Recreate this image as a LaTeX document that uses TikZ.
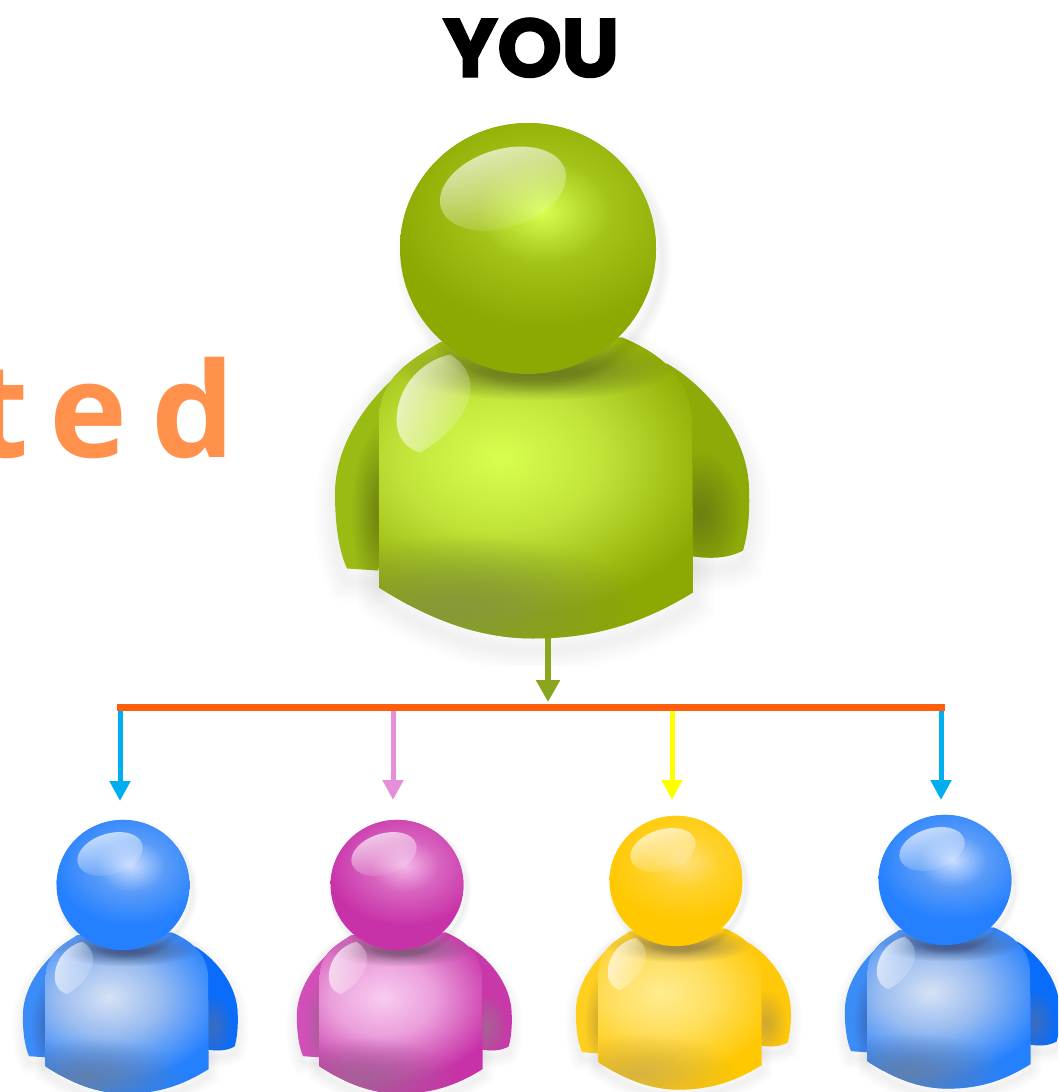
\documentclass[tikz,border=0pt]{standalone}
\usepackage{fontspec}
\usetikzlibrary{arrows.meta,fadings}
\newfontfamily\youfont[LetterSpace=-1.5,BoldFeatures={FakeBold=1.6}]{Poppins}
\newfontfamily\tedfont{Open Sans}
\definecolor{gHi}{HTML}{D8FF50}\definecolor{gMid}{HTML}{C2E43A}\definecolor{gEdge}{HTML}{8BA900}
\definecolor{gArmL}{HTML}{9ABB14}\definecolor{gArmR}{HTML}{8CAA08}\definecolor{gShade}{HTML}{6C8010}\definecolor{gBot}{HTML}{85993A}\definecolor{gNeck}{HTML}{64741E}\definecolor{gHead}{HTML}{D8FF50}
\definecolor{bHi}{HTML}{D6E2F4}\definecolor{bMid}{HTML}{9ABCF0}\definecolor{bEdge}{HTML}{2480FF}
\definecolor{bArmL}{HTML}{3C8CF8}\definecolor{bArmR}{HTML}{0A6CFA}\definecolor{bShade}{HTML}{3A6CC0}\definecolor{bBot}{HTML}{6080B0}\definecolor{bNeck}{HTML}{405888}\definecolor{bHead}{HTML}{C8DCFF}
\definecolor{mHi}{HTML}{F9CCF0}\definecolor{mMid}{HTML}{EBA0DC}\definecolor{mEdge}{HTML}{C832A8}
\definecolor{mArmL}{HTML}{D050B8}\definecolor{mArmR}{HTML}{C838A8}\definecolor{mShade}{HTML}{A86098}\definecolor{mBot}{HTML}{A8609A}\definecolor{mNeck}{HTML}{805878}\definecolor{mHead}{HTML}{F4B8E8}
\definecolor{yHi}{HTML}{FFEC90}\definecolor{yMid}{HTML}{FFDF60}\definecolor{yEdge}{HTML}{FFC800}
\definecolor{yArmL}{HTML}{FFCF20}\definecolor{yArmR}{HTML}{FFC80A}\definecolor{yShade}{HTML}{D0A830}\definecolor{yBot}{HTML}{D8B440}\definecolor{yNeck}{HTML}{A08848}\definecolor{yHead}{HTML}{FFE080}
\newcommand{\setpal}[1]{\colorlet{pHi}{#1Hi}\colorlet{pMid}{#1Mid}\colorlet{pEdge}{#1Edge}\colorlet{pArmL}{#1ArmL}\colorlet{pArmR}{#1ArmR}\colorlet{pShade}{#1Shade}\colorlet{pBot}{#1Bot}\colorlet{pNeck}{#1Neck}\colorlet{pHead}{#1Head}\colorlet{pHMid}{#1Mid!45!#1Edge}}
\colorlet{pHi}{gHi}\colorlet{pMid}{gMid}\colorlet{pEdge}{gEdge}\colorlet{pHead}{gHead}\colorlet{pHMid}{gMid!45!gEdge}
\pgfdeclareradialshading[pHi,pMid,pEdge]{bodyglow}{\pgfpoint{0bp}{0bp}}{color(0bp)=(pHi);color(11bp)=(pMid);color(25bp)=(pEdge);color(50bp)=(pEdge)}
\pgfdeclareradialshading[pHead,pHMid,pEdge]{headglow}{\pgfpoint{0bp}{0bp}}{color(0bp)=(pHead);color(11bp)=(pHMid);color(25bp)=(pEdge);color(50bp)=(pEdge)}
\pgfdeclareradialshading{softblobshade}{\pgfpoint{0bp}{0bp}}{color(0bp)=(white);color(8bp)=(white!75!black);color(25bp)=(black);color(50bp)=(black)}
\pgfdeclarefading{softblob}{\pgfuseshading{softblobshade}}
\tikzfading[name=glossfade,top color=transparent!30,bottom color=transparent!100]
\tikzfading[name=glossfadeb,left color=transparent!25,middle color=transparent!85,right color=transparent!100]
\newcommand{\torsopath}{(-149,339) -- (-149,170) .. controls (-149,130) and (-118,112) .. (-88,94) -- (94,89) .. controls (125,102) and (164,125) .. (164,175) -- (165,344) .. controls (110,378) and (60,390) .. (5,390) .. controls (-50,390) and (-100,370) .. (-149,339) -- cycle}
\newcommand{\armLpath}{(-125,122) .. controls (-160,150) and (-193,195) .. (-193,245) .. controls (-193,280) and (-188,305) .. (-181,320) -- (-150,322) -- (-100,150) -- cycle}
\newcommand{\armRpath}{(139,115) .. controls (182,140) and (220,190) .. (221,240) .. controls (222,265) and (220,285) .. (215,302) .. controls (200,310) and (180,312) .. (150,305) -- (100,150) -- cycle}
\tikzset{softspot/.style={path fading=softblob}}
\newcommand{\personfig}[5]{%
 \setpal{#5}%
 \begin{scope}[shift={(#1,#2)},xscale=#3,yscale=#4]
  \begin{scope}
   \clip (-320,-180) rectangle (330,417);
   \foreach \w in {6,12,...,42}{
    \begin{scope}[shift={(0,12)}]
    \draw[black,opacity=.007,line width={\w*#3}] \torsopath;
    \draw[black,opacity=.007,line width={\w*#3}] \armRpath;
    \draw[black,opacity=.007,line width={\w*#3}] \armLpath;
    \end{scope}}
  \end{scope}
  \fill[pArmL] \armLpath;
  \begin{scope}
   \clip \armLpath;
   \fill[pShade,softspot] (-145,265) ellipse [x radius=32,y radius=90];
  \end{scope}
  \fill[pArmR] \armRpath;
  \begin{scope}
   \clip \armRpath;
   \fill[pShade,softspot] (172,265) ellipse [x radius=42,y radius=62];
  \end{scope}
  \begin{scope}
   \clip \torsopath;
   \fill[pEdge] (-200,50) rectangle (200,400);
   \shade[shading=bodyglow] (-28,210) ellipse [x radius=225,y radius=160];
   \fill[pBot,softspot] (-70,358) ellipse [x radius=190,y radius=72];
   \fill[pNeck,softspot] (6,120) ellipse [x radius=140,y radius=32];
   \fill[white,path fading=glossfadeb,fading angle=-25] (-108,204) .. controls (-128,198) and (-133,180) .. (-131,165) .. controls (-128,135) and (-105,112) .. (-78,106) .. controls (-45,125) and (-50,170) .. (-108,204) -- cycle;
  \end{scope}
 \end{scope}
 \begin{scope}[shift={(#1,#2)},xscale=#3,yscale=.98*#3]
  \foreach \w in {4,8,...,20}{\draw[black,opacity=.012,line width={\w*#3}] (6,10) circle [radius=128];}
  \begin{scope}
   \clip (0,0) circle [radius=128];
   \fill[pEdge] (-130,-130) rectangle (130,130);
   \shade[shading=headglow] (15,-38) ellipse [x radius=150,y radius=118];
   \fill[white,path fading=glossfade,fading angle=25,rotate around={18:(-25,-61)}] (-25,-61) ellipse [x radius=65,y radius=40];
  \end{scope}
 \end{scope}
}
\definecolor{busorange}{HTML}{FF5F0A}
\definecolor{youarrow}{HTML}{8AA61E}
\definecolor{cyandrop}{HTML}{00AEEF}
\definecolor{pinkdrop}{HTML}{E68FD8}
\definecolor{yellowdrop}{HTML}{FFFF00}
\definecolor{tedorange}{HTML}{FF914D}
\tikzset{
 dropline/.style={line width=5pt,-{Triangle[width=20pt,length=20pt]}},
 busline/.style={line width=7pt,draw=busorange},
}
\begin{document}
\begin{tikzpicture}[x=1pt,y=-1pt]
\useasboundingbox (0,0) rectangle (1058,1092);
\clip (0,0) rectangle (1058,1092);
\node[anchor=base,inner sep=0pt,font=\youfont\bfseries\fontsize{83}{83}\selectfont] (youlabel) at (531,77) {YOU};
\node[anchor=base east,inner sep=0pt,text=tedorange,font=\tedfont\bfseries\fontsize{132}{132}\selectfont] (tedlabel) at (235,457) {t\hspace{20pt}e\hspace{24pt}d};
\personfig{528}{248.5}{1}{1}{g}
\personfig{123}{885}{.519}{.535}{b}
\personfig{397}{885}{.519}{.535}{m}
\personfig{676}{881}{.519}{.535}{y}
\personfig{945}{880}{.519}{.535}{b}
\coordinate (youbase) at (548,638);
\coordinate (busin) at (548,702);
\coordinate (busL) at (117,707);
\coordinate (busR) at (945,707);
\coordinate (dropA) at (120,710);\coordinate (tipA) at (120,801);
\coordinate (dropB) at (393,710);\coordinate (tipB) at (393,800);
\coordinate (dropC) at (672,710);\coordinate (tipC) at (672,800);
\coordinate (dropD) at (941,710);\coordinate (tipD) at (941,800);
\draw[dropline,draw=cyandrop] (dropA) -- (tipA);
\draw[dropline,draw=pinkdrop] (dropB) -- (tipB);
\draw[dropline,draw=yellowdrop] (dropC) -- (tipC);
\draw[dropline,draw=cyandrop] (dropD) -- (tipD);
\draw[busline] (busL) -- (busR);
\draw[line width=5.5pt,draw=youarrow,-{Triangle[width=23pt,length=22pt]}] (youbase) -- (busin);
\end{tikzpicture}
\end{document}
